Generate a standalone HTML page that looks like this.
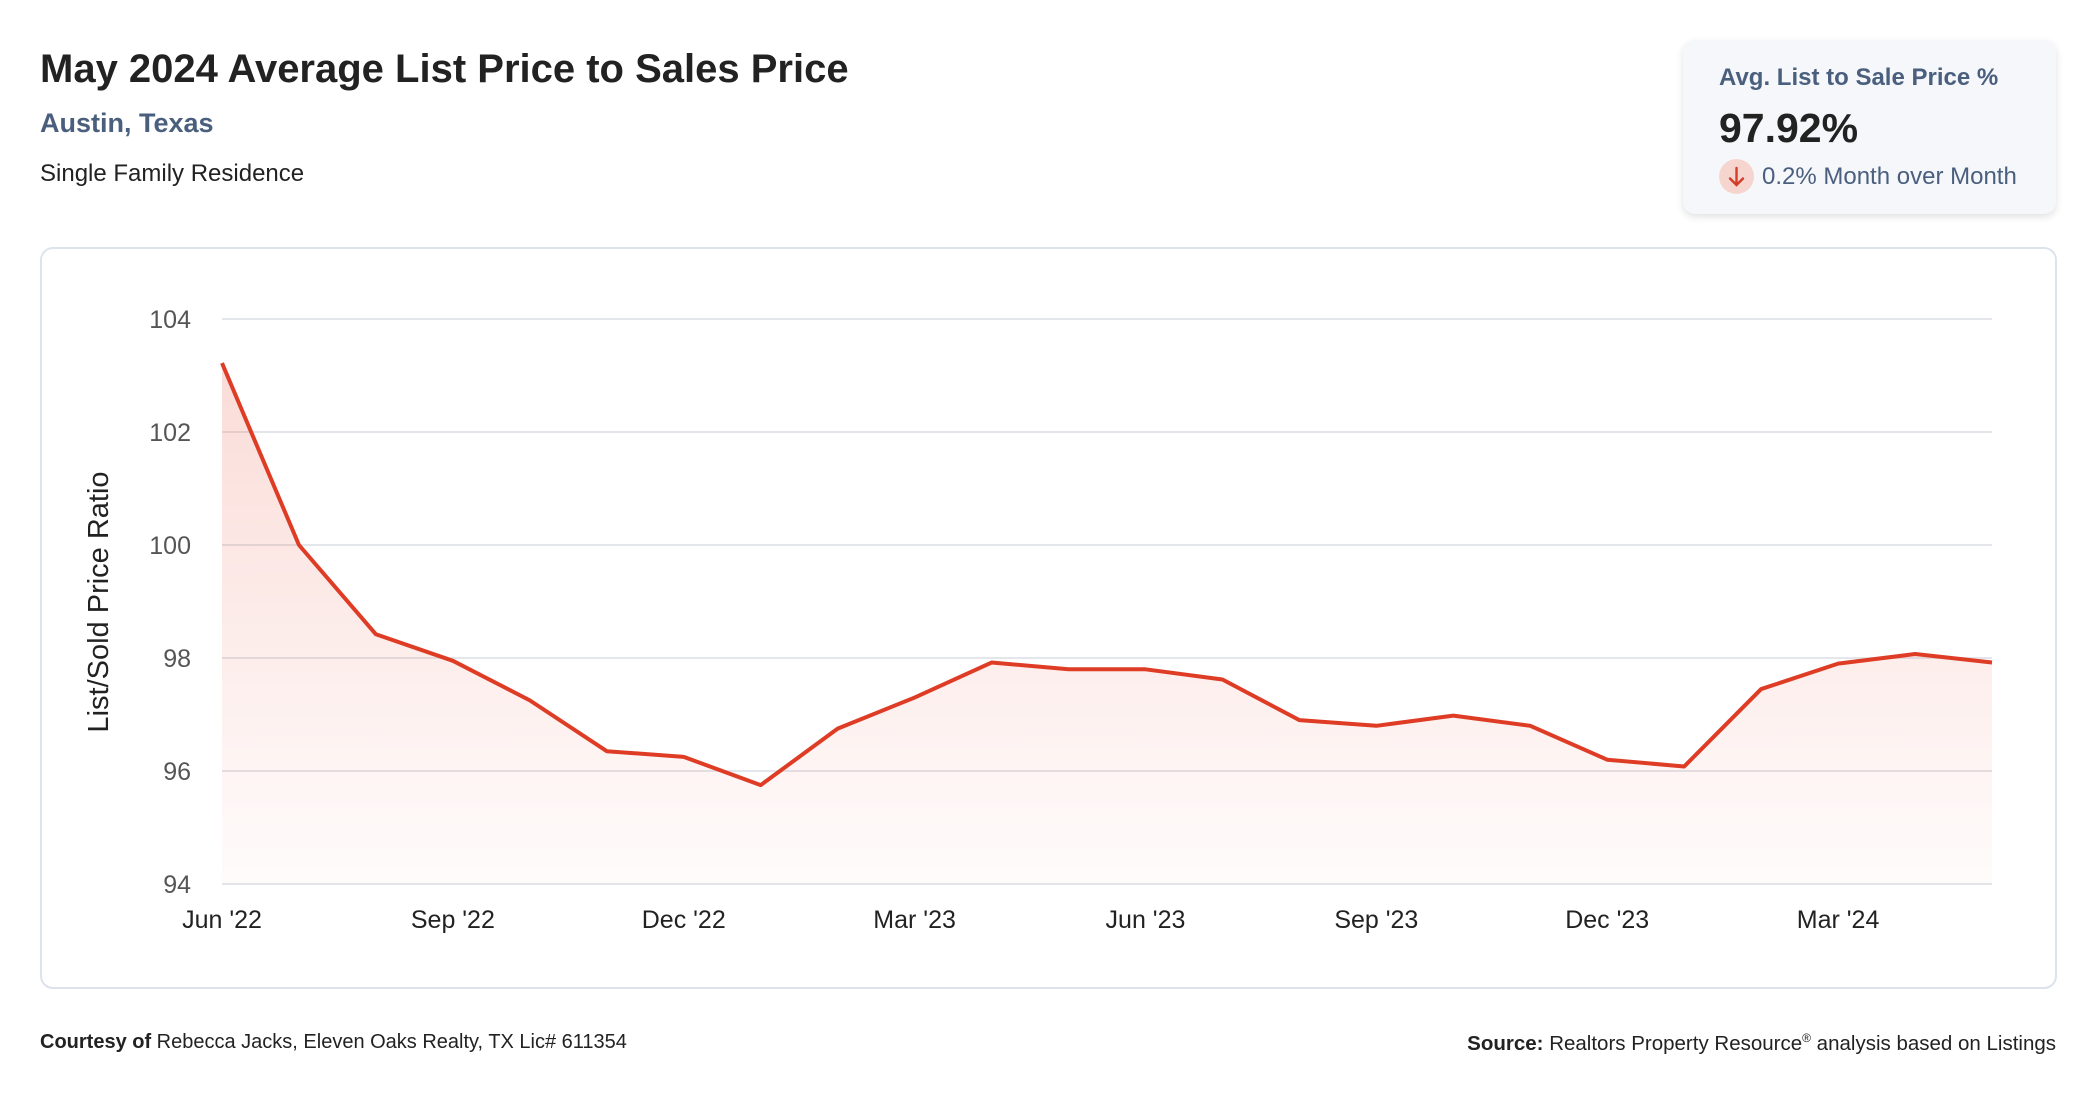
<!DOCTYPE html>
<html><head><meta charset="utf-8"><style>
body{margin:0;width:2096px;height:1100px;background:#fff;font-family:"Liberation Sans",sans-serif;position:relative;overflow:hidden}
.abs{position:absolute;white-space:nowrap}
</style></head><body>
<div class="abs" style="left:40px;top:47px;font-size:40px;font-weight:bold;color:#222">May 2024 Average List Price to Sales Price</div>
<div class="abs" style="left:40px;top:108px;font-size:27px;font-weight:bold;color:#4a5f7e">Austin, Texas</div>
<div class="abs" style="left:40px;top:160px;font-size:24px;color:#222">Single Family Residence</div>

<div class="abs" style="left:1683px;top:40px;width:373px;height:174px;background:#f5f7fa;border-radius:12px;box-shadow:0 3px 8px rgba(0,0,0,0.12)">
  <div class="abs" style="left:36px;top:24px;font-size:24px;font-weight:bold;color:#4a5f7e">Avg. List to Sale Price %</div>
  <div class="abs" style="left:36px;top:65px;font-size:41px;font-weight:bold;color:#222">97.92%</div>
  <div class="abs" style="left:36px;top:119px;width:35px;height:35px;border-radius:50%;background:#f6d5cf">
    <svg width="35" height="35" viewBox="0 0 35 35"><path d="M17.5 9 V26 M11 19.5 L17.5 26 L24 19.5" stroke="#d33c26" stroke-width="2.4" fill="none" stroke-linecap="round"/></svg>
  </div>
  <div class="abs" style="left:79px;top:123px;font-size:24px;color:#4a5f7e">0.2% Month over Month</div>
</div>

<div class="abs" style="left:40px;top:247px;width:2013px;height:738px;border:2px solid #dde3ec;border-radius:13px"></div>
<svg id="chart" class="abs" style="left:0;top:0" width="2096" height="1100"></svg>

<div class="abs" style="left:40px;top:1031px;font-size:20px;color:#222"><b>Courtesy of</b> Rebecca Jacks, Eleven Oaks Realty, TX Lic# 611354</div>
<div class="abs" style="right:40px;top:1031px;font-size:20.5px;color:#222"><b>Source:</b> Realtors Property Resource<sup style="font-size:12px">®</sup> analysis based on Listings</div>

<script>
const months=["Jun '22","Jul '22","Aug '22","Sep '22","Oct '22","Nov '22","Dec '22","Jan '23","Feb '23","Mar '23","Apr '23","May '23","Jun '23","Jul '23","Aug '23","Sep '23","Oct '23","Nov '23","Dec '23","Jan '24","Feb '24","Mar '24","Apr '24","May '24"];
const values=[103.22,100.0,98.42,97.95,97.25,96.35,96.25,95.75,96.75,97.3,97.92,97.8,97.8,97.62,96.9,96.8,96.98,96.8,96.2,96.08,97.45,97.9,98.07,97.92];
const yTicks=[94,96,98,100,102,104];
const xTickIdx=[0,3,6,9,12,15,18,21];
const NS="http://www.w3.org/2000/svg";
const svg=document.getElementById('chart');
const L=222,R=1992,T=319,B=884,yMin=94,yMax=104;
const xS=i=>L+(R-L)*i/(months.length-1);
const yS=v=>B-(B-T)*(v-yMin)/(yMax-yMin);
function mk(tag,attrs){const e=document.createElementNS(NS,tag);for(const k in attrs)e.setAttribute(k,attrs[k]);svg.appendChild(e);return e;}
const defs=mk('defs',{});
defs.innerHTML='<linearGradient id="fillg" x1="0" y1="0" x2="0" y2="1"><stop offset="0" stop-color="#e8503a" stop-opacity="0.2"/><stop offset="1" stop-color="#e8503a" stop-opacity="0.02"/></linearGradient>';
yTicks.forEach(t=>{
  const g=mk('line',{x1:L,x2:R,y1:yS(t),y2:yS(t),stroke:'#e3e6ea','stroke-width':2});
  
  
  const tx=mk('text',{x:191,y:yS(t)+9,'text-anchor':'end','font-size':25,fill:'#555','font-family':'Liberation Sans, sans-serif'});
  tx.textContent=t;
  
  
});
xTickIdx.forEach(i=>{
  const tx=mk('text',{x:xS(i),y:928,'text-anchor':'middle','font-size':25,fill:'#222','font-family':'Liberation Sans, sans-serif'});
  tx.textContent=months[i];
  
  
});
const yt=mk('text',{x:0,y:0,'text-anchor':'middle','font-size':29,fill:'#222','font-family':'Liberation Sans, sans-serif',transform:'translate(108,602) rotate(-90)'});
yt.textContent='List/Sold Price Ratio';


const pts=values.map((v,i)=>xS(i)+','+yS(v));
const area=mk('path',{d:'M'+xS(0)+','+B+' L'+pts.join(' L')+' L'+xS(values.length-1)+','+B+' Z',fill:'url(#fillg)'});


const line=mk('polyline',{points:pts.join(' '),fill:'none',stroke:'#de3c25','stroke-width':4,'stroke-linejoin':'round'});


</script>
</body></html>
